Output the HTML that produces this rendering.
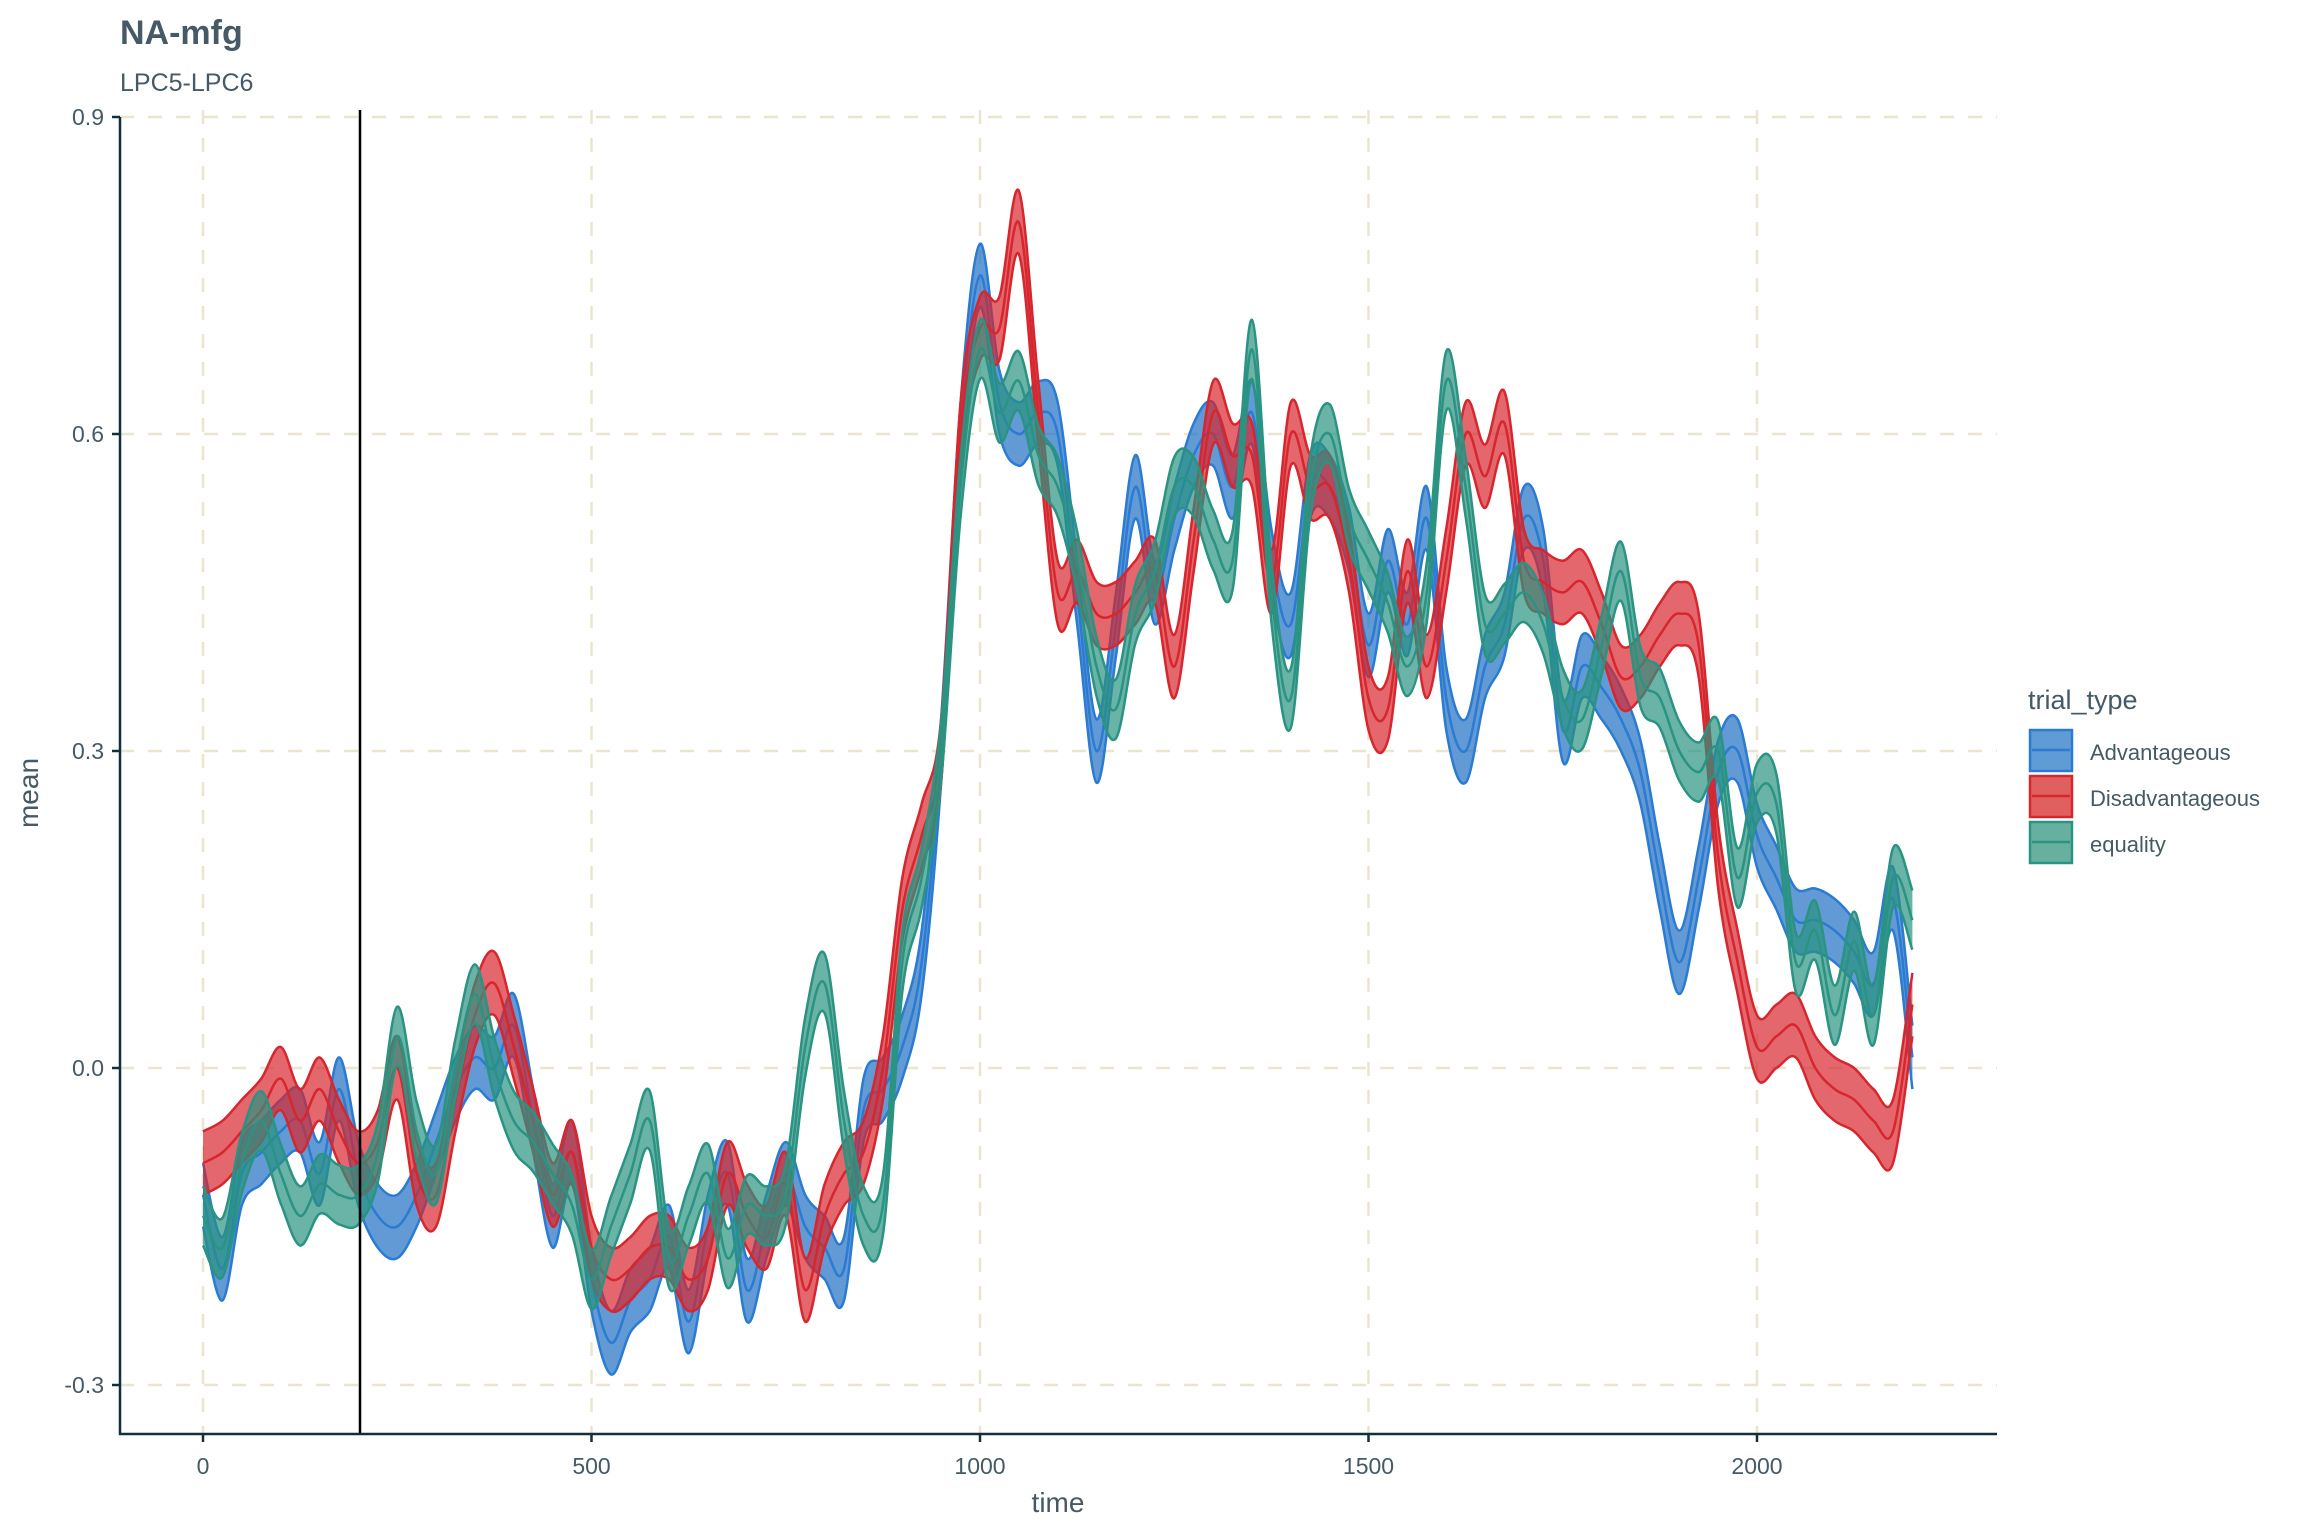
<!DOCTYPE html>
<html><head><meta charset="utf-8"><style>
html,body{margin:0;padding:0;background:#fff}
svg{display:block}
text{font-family:"Liberation Sans",Arial,sans-serif;fill:#455a64}
</style></head><body>
<svg id="chart" width="2304" height="1536" viewBox="0 0 2304 1536">
<text x="120" y="44" font-size="34" font-weight="bold">NA-mfg</text>
<text x="120" y="91" font-size="25">LPC5-LPC6</text>
<g id="grid"></g>
<g id="series"></g>
<line x1="360" x2="360" y1="110" y2="1434" stroke="#000" stroke-width="2.5"/>
<g id="axes"></g>
<text x="1058" y="1512" font-size="28" text-anchor="middle">time</text>
<text transform="translate(38,793) rotate(-90)" font-size="28" text-anchor="middle">mean</text>
<g>
<text x="2028" y="709" font-size="27">trial_type</text>
<g>
<rect x="2030" y="730" width="42" height="41" fill="#5f9bd5" stroke="#2a7bd1" stroke-width="2.5"/><line x1="2032" x2="2070" y1="750" y2="750" stroke="#2a7bd1" stroke-width="2.5"/>
<text x="2090" y="760" font-size="22">Advantageous</text></g>
<g>
<rect x="2030" y="776" width="42" height="41" fill="#e06060" stroke="#d7262e" stroke-width="2.5"/><line x1="2032" x2="2070" y1="796" y2="796" stroke="#d7262e" stroke-width="2.5"/>
<text x="2090" y="806" font-size="22">Disadvantageous</text></g>
<g>
<rect x="2030" y="822" width="42" height="41" fill="#67b09f" stroke="#2a9382" stroke-width="2.5"/><line x1="2032" x2="2070" y1="842" y2="842" stroke="#2a9382" stroke-width="2.5"/>
<text x="2090" y="852" font-size="22">equality</text></g>
</g>
</svg>
<script>
const times=[0,25,50,75,100,125,150,175,200,225,250,275,300,325,350,375,400,425,450,475,500,525,550,575,600,625,650,675,700,725,750,775,800,825,850,875,900,925,950,975,1000,1025,1050,1075,1100,1125,1150,1175,1200,1225,1250,1275,1300,1325,1350,1375,1400,1425,1450,1475,1500,1525,1550,1575,1600,1625,1650,1675,1700,1725,1750,1775,1800,1825,1850,1875,1900,1925,1950,1975,2000,2025,2050,2075,2100,2125,2150,2175,2200];
const advantageous=[-0.12,-0.19,-0.10,-0.08,-0.06,-0.05,-0.10,-0.02,-0.10,-0.14,-0.15,-0.12,-0.07,-0.02,0.01,0.00,0.04,-0.05,-0.14,-0.08,-0.20,-0.26,-0.22,-0.20,-0.16,-0.24,-0.15,-0.10,-0.21,-0.15,-0.10,-0.15,-0.17,-0.19,-0.04,-0.02,0.02,0.10,0.30,0.60,0.75,0.63,0.60,0.62,0.60,0.45,0.30,0.42,0.55,0.45,0.52,0.58,0.60,0.55,0.62,0.48,0.42,0.55,0.55,0.50,0.40,0.48,0.42,0.52,0.35,0.30,0.38,0.42,0.52,0.48,0.32,0.38,0.36,0.33,0.28,0.18,0.10,0.18,0.28,0.30,0.22,0.18,0.14,0.14,0.13,0.11,0.08,0.16,0.01];
const disadvantageous=[-0.09,-0.08,-0.06,-0.04,-0.01,-0.05,-0.02,-0.06,-0.09,-0.07,0.00,-0.10,-0.12,-0.03,0.05,0.08,0.02,-0.05,-0.12,-0.08,-0.17,-0.20,-0.19,-0.17,-0.17,-0.20,-0.18,-0.10,-0.14,-0.16,-0.11,-0.21,-0.14,-0.10,-0.08,0.00,0.15,0.22,0.30,0.60,0.70,0.70,0.80,0.62,0.45,0.47,0.43,0.43,0.45,0.47,0.38,0.50,0.62,0.58,0.58,0.46,0.60,0.55,0.55,0.48,0.35,0.34,0.47,0.38,0.48,0.60,0.56,0.61,0.48,0.46,0.45,0.46,0.42,0.37,0.38,0.41,0.43,0.40,0.20,0.10,0.02,0.03,0.04,0.00,-0.02,-0.03,-0.05,-0.06,0.06];
const equality=[-0.14,-0.17,-0.09,-0.05,-0.10,-0.14,-0.11,-0.12,-0.12,-0.08,0.03,-0.06,-0.10,0.00,0.07,0.00,-0.05,-0.07,-0.10,-0.13,-0.20,-0.15,-0.10,-0.05,-0.18,-0.14,-0.10,-0.18,-0.13,-0.14,-0.12,0.02,0.08,-0.05,-0.14,-0.13,0.10,0.18,0.30,0.55,0.68,0.62,0.65,0.58,0.55,0.48,0.38,0.34,0.43,0.47,0.55,0.55,0.50,0.48,0.68,0.45,0.35,0.55,0.60,0.52,0.48,0.44,0.38,0.45,0.65,0.55,0.42,0.43,0.45,0.42,0.35,0.33,0.40,0.47,0.37,0.35,0.30,0.28,0.30,0.18,0.26,0.25,0.10,0.13,0.05,0.12,0.05,0.18,0.14];
const seAdv=0.03, seDis=0.03, seEq=0.028;
const xTicks=[0,500,1000,1500,2000];
const yTicks=[-0.3,0,0.3,0.6,0.9];
const yTickLabels=["-0.3","0.0","0.3","0.6","0.9"];

const NS="http://www.w3.org/2000/svg";
const xS=t=>203+t*(1757-203)/2000;
const yS=v=>1068-v*(1068-751)/0.3;
function mk(tag,attrs,parent){const e=document.createElementNS(NS,tag);for(const k in attrs)e.setAttribute(k,attrs[k]);parent.appendChild(e);return e;}
function smooth(pts){let d="M"+pts[0][0].toFixed(1)+","+pts[0][1].toFixed(1);
 for(let i=0;i<pts.length-1;i++){const p0=pts[Math.max(i-1,0)],p1=pts[i],p2=pts[i+1],p3=pts[Math.min(i+2,pts.length-1)];
  const c1=[p1[0]+(p2[0]-p0[0])/6,p1[1]+(p2[1]-p0[1])/6],c2=[p2[0]-(p3[0]-p1[0])/6,p2[1]-(p3[1]-p1[1])/6];
  d+="C"+c1[0].toFixed(1)+","+c1[1].toFixed(1)+" "+c2[0].toFixed(1)+","+c2[1].toFixed(1)+" "+p2[0].toFixed(1)+","+p2[1].toFixed(1);}
 return d;}
const grid=document.getElementById('grid');
xTicks.forEach(t=>{const l=mk('line',{x1:xS(t),x2:xS(t),y1:110,y2:1434,stroke:'#ebe5cf','stroke-width':2.5,'stroke-dasharray':'14 14'},grid);

});
yTicks.forEach(v=>{const l=mk('line',{x1:120,x2:1997,y1:yS(v),y2:yS(v),stroke:'#ebe5cf','stroke-width':2.5,'stroke-dasharray':'14 14'},grid);

});
const ser=document.getElementById('series');
function band(vals,se,fill,stroke,name){
 const g=mk('g',{},ser);
 
 
 const up=times.map((t,i)=>[xS(t),yS(vals[i]+se)]);
 const lo=times.map((t,i)=>[xS(t),yS(vals[i]-se)]);
 const mid=times.map((t,i)=>[xS(t),yS(vals[i])]);
 const loR=lo.slice().reverse();
 const dUp=smooth(up),dLoR=smooth(loR);
 const area=mk('path',{d:dUp+"L"+dLoR.slice(1)+"Z",fill:fill,'fill-opacity':0.7},g);
 
 
 [up,lo,mid].forEach(p=>{const l=mk('path',{d:smooth(p),fill:'none',stroke:stroke,'stroke-width':2.5},g);
 
 });
}
band(advantageous,seAdv,'#1f6fc4','#2a7bd1','advantageous-series');
band(disadvantageous,seDis,'#d7262e','#d7262e','disadvantageous-series');
band(equality,seEq,'#2a9382','#2a9382','equality-series');
const ax=document.getElementById('axes');
mk('line',{x1:120,x2:120,y1:117,y2:1435,stroke:'#12303a','stroke-width':2.5},ax);
mk('line',{x1:119,x2:1997,y1:1434,y2:1434,stroke:'#12303a','stroke-width':2.5},ax);
xTicks.forEach(t=>{mk('line',{x1:xS(t),x2:xS(t),y1:1434,y2:1442,stroke:'#12303a','stroke-width':2.5},ax);
 const tx=mk('text',{x:xS(t),y:1474,'font-size':23,'text-anchor':'middle'},ax);tx.textContent=t;
 
 });
yTicks.forEach((v,i)=>{mk('line',{x1:112,x2:120,y1:yS(v),y2:yS(v),stroke:'#12303a','stroke-width':2.5},ax);
 const tx=mk('text',{x:104,y:yS(v)+8,'font-size':23,'text-anchor':'end'},ax);tx.textContent=yTickLabels[i];
 
 });
</script>
</body></html>
